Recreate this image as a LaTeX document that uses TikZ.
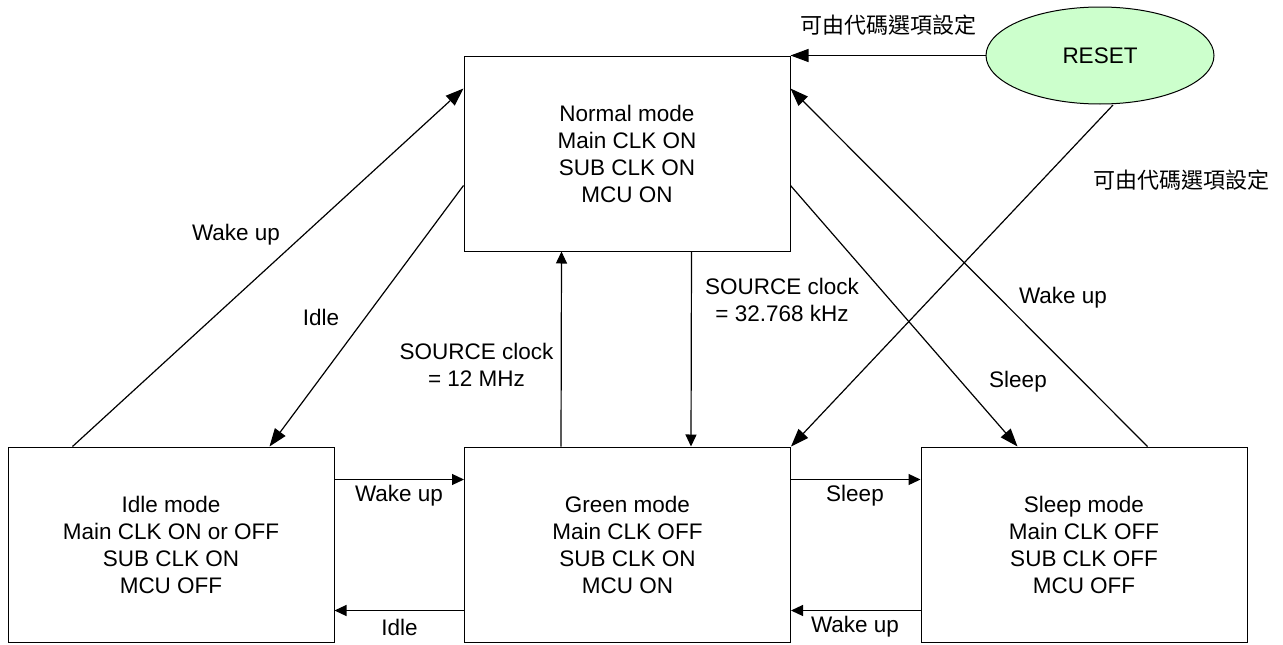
\documentclass[tikz,border=0pt]{standalone}
\usepackage{fontspec}
\setmainfont{Liberation Sans}
\newfontfamily\cjk{Noto Sans CJK TC}
\usetikzlibrary{arrows.meta,calc,shapes.geometric}
\definecolor{resetgreen}{HTML}{CCFFCC}
\tikzset{
  modebox/.style={draw, line width=1pt, minimum width=326pt, minimum height=195pt,
    inner sep=0pt, align=center, font=\fontsize{22.5}{27}\selectfont},
  lbl/.style={inner sep=0pt, align=center, font=\fontsize{22.5}{26.5}\selectfont},
  cjklbl/.style={inner sep=0pt, font=\cjk\fontsize{22}{26}\selectfont},
  bigarrow/.style={-{Triangle[length=18pt,width=13pt]}, line width=1.2pt},
  smallarrow/.style={-{Triangle[length=12pt,width=11pt]}, line width=1.2pt},
}
\begin{document}
\begin{tikzpicture}[x=1pt,y=-1pt]
\useasboundingbox (0,0) rectangle (1283,645);

% mode boxes
\node[modebox] (normal) at (627,153.5) {Normal mode\\Main CLK ON\\SUB CLK ON\\MCU ON};
\node[modebox] (idle) at (171,544.5) {Idle mode\\Main CLK ON or OFF\\SUB CLK ON\\MCU OFF};
\node[modebox] (green) at (627.5,544.5) {Green mode\\Main CLK OFF\\SUB CLK ON\\MCU ON};
\node[modebox] (sleep) at (1084,544.5) {Sleep mode\\Main CLK OFF\\SUB CLK OFF\\MCU OFF};
\node[draw, ellipse, fill=resetgreen, line width=1pt, minimum width=228pt, minimum height=97pt,
  inner sep=0pt, font=\fontsize{22.5}{27}\selectfont] (reset) at (1100,55.5) {RESET};

% Idle <-> Normal
\draw[bigarrow] ($(idle.north west)+(65,0)$) -- ($(normal.north west)+(0,33)$);
\draw[bigarrow] ($(normal.north west)+(0,130)$) -- ($(idle.north west)+(262,0)$);
% Green <-> Normal
\draw[smallarrow] ($(green.north west)+(97,0)$) -- ($(normal.south west)+(98,0)$);
\draw[smallarrow] ($(normal.south west)+(228,0)$) -- ($(green.north west)+(227,0)$);
% Normal <-> Sleep
\draw[bigarrow] ($(normal.north east)+(0,130)$) -- ($(sleep.north west)+(97,0)$);
\draw[bigarrow] ($(sleep.north west)+(227,0)$) -- ($(normal.north east)+(0,33)$);
% RESET
\draw[bigarrow] (reset.west) -- (normal.north east);
\draw[bigarrow] ($(reset.south)+(13,0.5)$) -- (green.north east);
% horizontal arrows
\draw[smallarrow] ($(idle.north east)+(0,33)$) -- ($(green.north west)+(0,33)$);
\draw[smallarrow] ($(green.north west)+(0,164)$) -- ($(idle.north east)+(0,164)$);
\draw[smallarrow] ($(green.north east)+(0,33)$) -- ($(sleep.north west)+(0,33)$);
\draw[smallarrow] ($(sleep.north west)+(0,164)$) -- ($(green.north east)+(0,164)$);

% labels
\node[lbl] (l1) at (236,235) {Wake up};
\node[lbl] (l2) at (321,317) {Idle};
\node[lbl] (l3) at (476.5,365) {SOURCE clock\\= 12 MHz};
\node[lbl] (l4) at (782,300) {SOURCE clock\\= 32.768 kHz};
\node[lbl] (l5) at (1018,382) {Sleep};
\node[lbl] (l6) at (1063,298) {Wake up};
\node[lbl] (l7) at (399,496) {Wake up};
\node[lbl] (l8) at (399.5,627) {Idle};
\node[lbl] (l9) at (855,496) {Sleep};
\node[lbl] (l10) at (855,627) {Wake up};
\node[cjklbl] (c1) at (888,25) {可由代碼選項設定};
\node[cjklbl] (c2) at (1181,180) {可由代碼選項設定};
\end{tikzpicture}
\end{document}
